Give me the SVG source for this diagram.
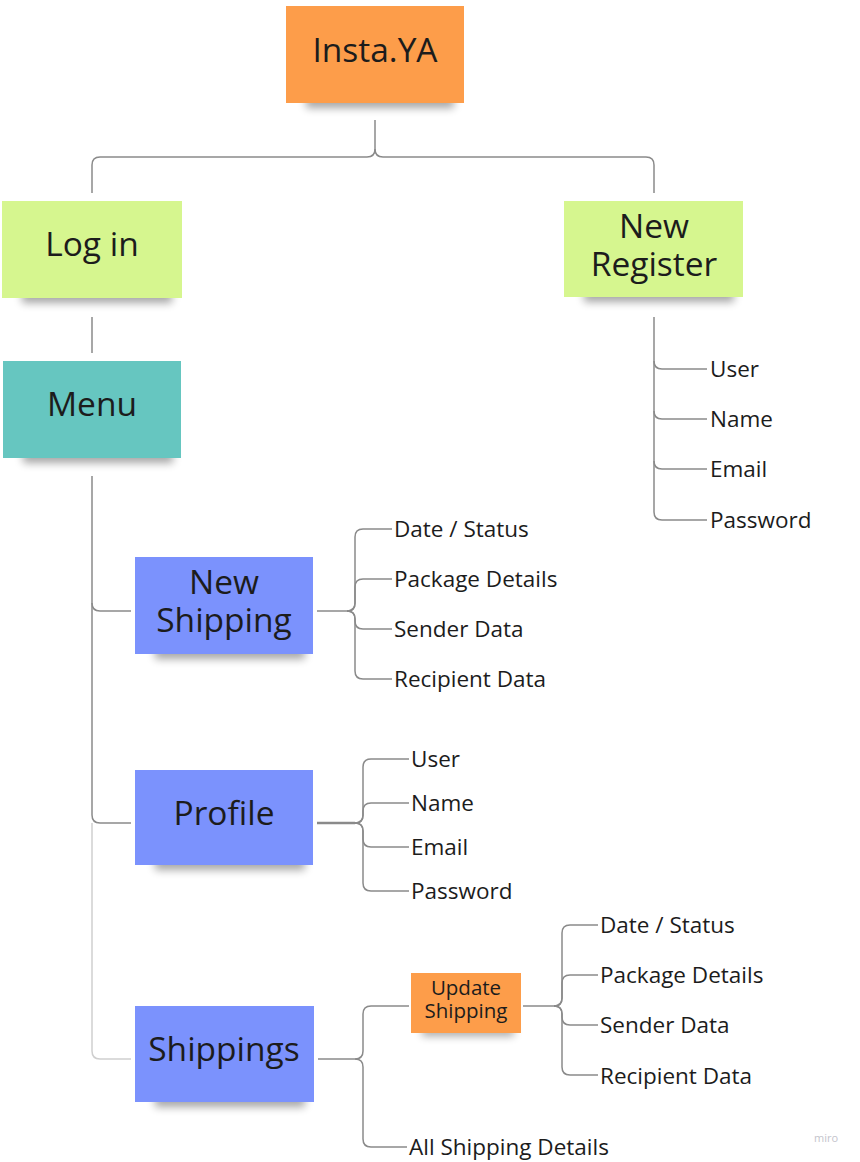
<svg xmlns="http://www.w3.org/2000/svg" width="860" height="1162" viewBox="0 0 860 1162">
<defs>
<filter id="sh" x="-20%" y="-100%" width="140%" height="300%"><feGaussianBlur stdDeviation="4"/></filter>
<style>
.t{font-family:"Open Sans","Liberation Sans",sans-serif;fill:#1c1c1c}
.big{font-size:33.5px;text-anchor:middle}
.sm{font-size:22.5px}
.us{font-size:20.5px;text-anchor:middle}
.c{fill:none;stroke:#8a8a8a;stroke-width:1.5}
.cl{fill:none;stroke:#cfcfcf;stroke-width:1.5}
.shadow{fill:#000;opacity:0.35;filter:url(#sh)}
.orange{fill:#fd9d4a}
.green{fill:#d6f68f}
.teal{fill:#66c6c0}
.blue{fill:#7b92fd}
</style>
</defs>
<rect width="860" height="1162" fill="#ffffff"/>
<g id="connectors">
<path class="c" d="M375,120 V149 Q375,157 367,157 H100 Q92,157 92,165 V193"/>
<path class="c" d="M375,149 Q375,157 383,157 H646 Q654,157 654,165 V193"/>
<path class="c" d="M92,317 V353"/>
<path class="c" d="M654,317 V512 Q654,520 662,520 H707"/>
<path class="c" d="M654,361 Q654,369 662,369 H707"/>
<path class="c" d="M654,411 Q654,419 662,419 H707"/>
<path class="c" d="M654,461 Q654,469 662,469 H707"/>
<path class="c" d="M92,476 V603 Q92,611 100,611 H131"/>
<path class="c" d="M92,603 V815 Q92,823 100,823 H131"/>
<path class="cl" d="M92,823 V1051 Q92,1059 100,1059 H131"/>
<path class="c" d="M317,611 H347"/>
<path class="c" d="M347,611 Q355,611 355,603 V537 Q355,529 363,529 H392"/>
<path class="c" d="M347,611 Q355,611 355,603 V587 Q355,579 363,579 H392"/>
<path class="c" d="M347,611 Q355,611 355,619 V621 Q355,629 363,629 H392"/>
<path class="c" d="M347,611 Q355,611 355,619 V671 Q355,679 363,679 H392"/>
<path class="c" d="M317,823 H355" style="stroke-width:2.5"/>
<path class="c" d="M355,823 Q363,823 363,815 V767 Q363,759 371,759 H409"/>
<path class="c" d="M355,823 Q363,823 363,815 V811 Q363,803 371,803 H409"/>
<path class="c" d="M355,823 Q363,823 363,831 V839 Q363,847 371,847 H409"/>
<path class="c" d="M355,823 Q363,823 363,831 V883 Q363,891 371,891 H409"/>
<path class="c" d="M318,1059 H355"/>
<path class="c" d="M355,1059 Q363,1059 363,1051 V1014 Q363,1006 371,1006 H409"/>
<path class="c" d="M355,1059 Q363,1059 363,1067 V1139 Q363,1147 371,1147 H407"/>
<path class="c" d="M523,1006 H554"/>
<path class="c" d="M554,1006 Q562,1006 562,998 V933 Q562,925 570,925 H598"/>
<path class="c" d="M554,1006 Q562,1006 562,998 V983 Q562,975 570,975 H598"/>
<path class="c" d="M554,1006 Q562,1006 562,1014 V1017 Q562,1025 570,1025 H598"/>
<path class="c" d="M554,1006 Q562,1006 562,1014 V1067 Q562,1075 570,1075 H598"/>
</g>
<g id="insta">
<rect class="shadow" x="306" y="94" width="148" height="14"/>
<rect class="orange" x="286" y="6" width="178" height="97"/>
<text class="t big" x="375" y="62">Insta.YA</text>
</g>
<g id="login">
<rect class="shadow" x="22" y="289" width="150" height="14"/>
<rect class="green" x="2" y="201" width="180" height="97"/>
<text class="t big" x="92" y="256">Log in</text>
</g>
<g id="newregister">
<rect class="shadow" x="584" y="288" width="150" height="14"/>
<rect class="green" x="564" y="201" width="179" height="96"/>
<text class="t big" x="654" y="238"><tspan x="654" y="238">New</tspan><tspan x="654" y="276">Register</tspan></text>
</g>
<g id="reg-fields">
<text class="t sm" x="710" y="377">User</text>
<text class="t sm" x="710" y="427">Name</text>
<text class="t sm" x="710" y="477">Email</text>
<text class="t sm" x="710" y="528">Password</text>
</g>
<g id="menu">
<rect class="shadow" x="23" y="449" width="150" height="14"/>
<rect class="teal" x="3" y="361" width="178" height="97"/>
<text class="t big" x="92" y="416">Menu</text>
</g>
<g id="newshipping">
<rect class="shadow" x="155" y="645" width="150" height="14"/>
<rect class="blue" x="135" y="557" width="178" height="97"/>
<text class="t big" x="224" y="594"><tspan x="224" y="594">New</tspan><tspan x="224" y="632">Shipping</tspan></text>
</g>
<g id="ns-fields">
<text class="t sm" x="394" y="537">Date / Status</text>
<text class="t sm" x="394" y="587">Package Details</text>
<text class="t sm" x="394" y="637">Sender Data</text>
<text class="t sm" x="394" y="687">Recipient Data</text>
</g>
<g id="profile">
<rect class="shadow" x="155" y="856" width="150" height="14"/>
<rect class="blue" x="135" y="770" width="178" height="95"/>
<text class="t big" x="224" y="825">Profile</text>
</g>
<g id="profile-fields">
<text class="t sm" x="411" y="767">User</text>
<text class="t sm" x="411" y="811">Name</text>
<text class="t sm" x="411" y="855">Email</text>
<text class="t sm" x="411" y="899">Password</text>
</g>
<g id="shippings">
<rect class="shadow" x="155" y="1093" width="150" height="14"/>
<rect class="blue" x="135" y="1006" width="179" height="96"/>
<text class="t big" x="224" y="1061">Shippings</text>
</g>
<g id="updateshipping">
<rect class="shadow" x="422" y="1026" width="92" height="10"/>
<rect class="orange" x="411" y="973" width="110" height="60"/>
<text class="t us" x="466" y="995"><tspan x="466" y="995">Update</tspan><tspan x="466" y="1018">Shipping</tspan></text>
</g>
<g id="us-fields">
<text class="t sm" x="600" y="933">Date / Status</text>
<text class="t sm" x="600" y="983">Package Details</text>
<text class="t sm" x="600" y="1033">Sender Data</text>
<text class="t sm" x="600" y="1084">Recipient Data</text>
</g>
<g id="allshipping">
<text class="t sm" x="409" y="1155">All Shipping Details</text>
</g>
<text x="826" y="1142" style="font-family:'Open Sans','Liberation Sans',sans-serif;font-size:11px;fill:#c4c4cc;text-anchor:middle">miro</text>
</svg>
